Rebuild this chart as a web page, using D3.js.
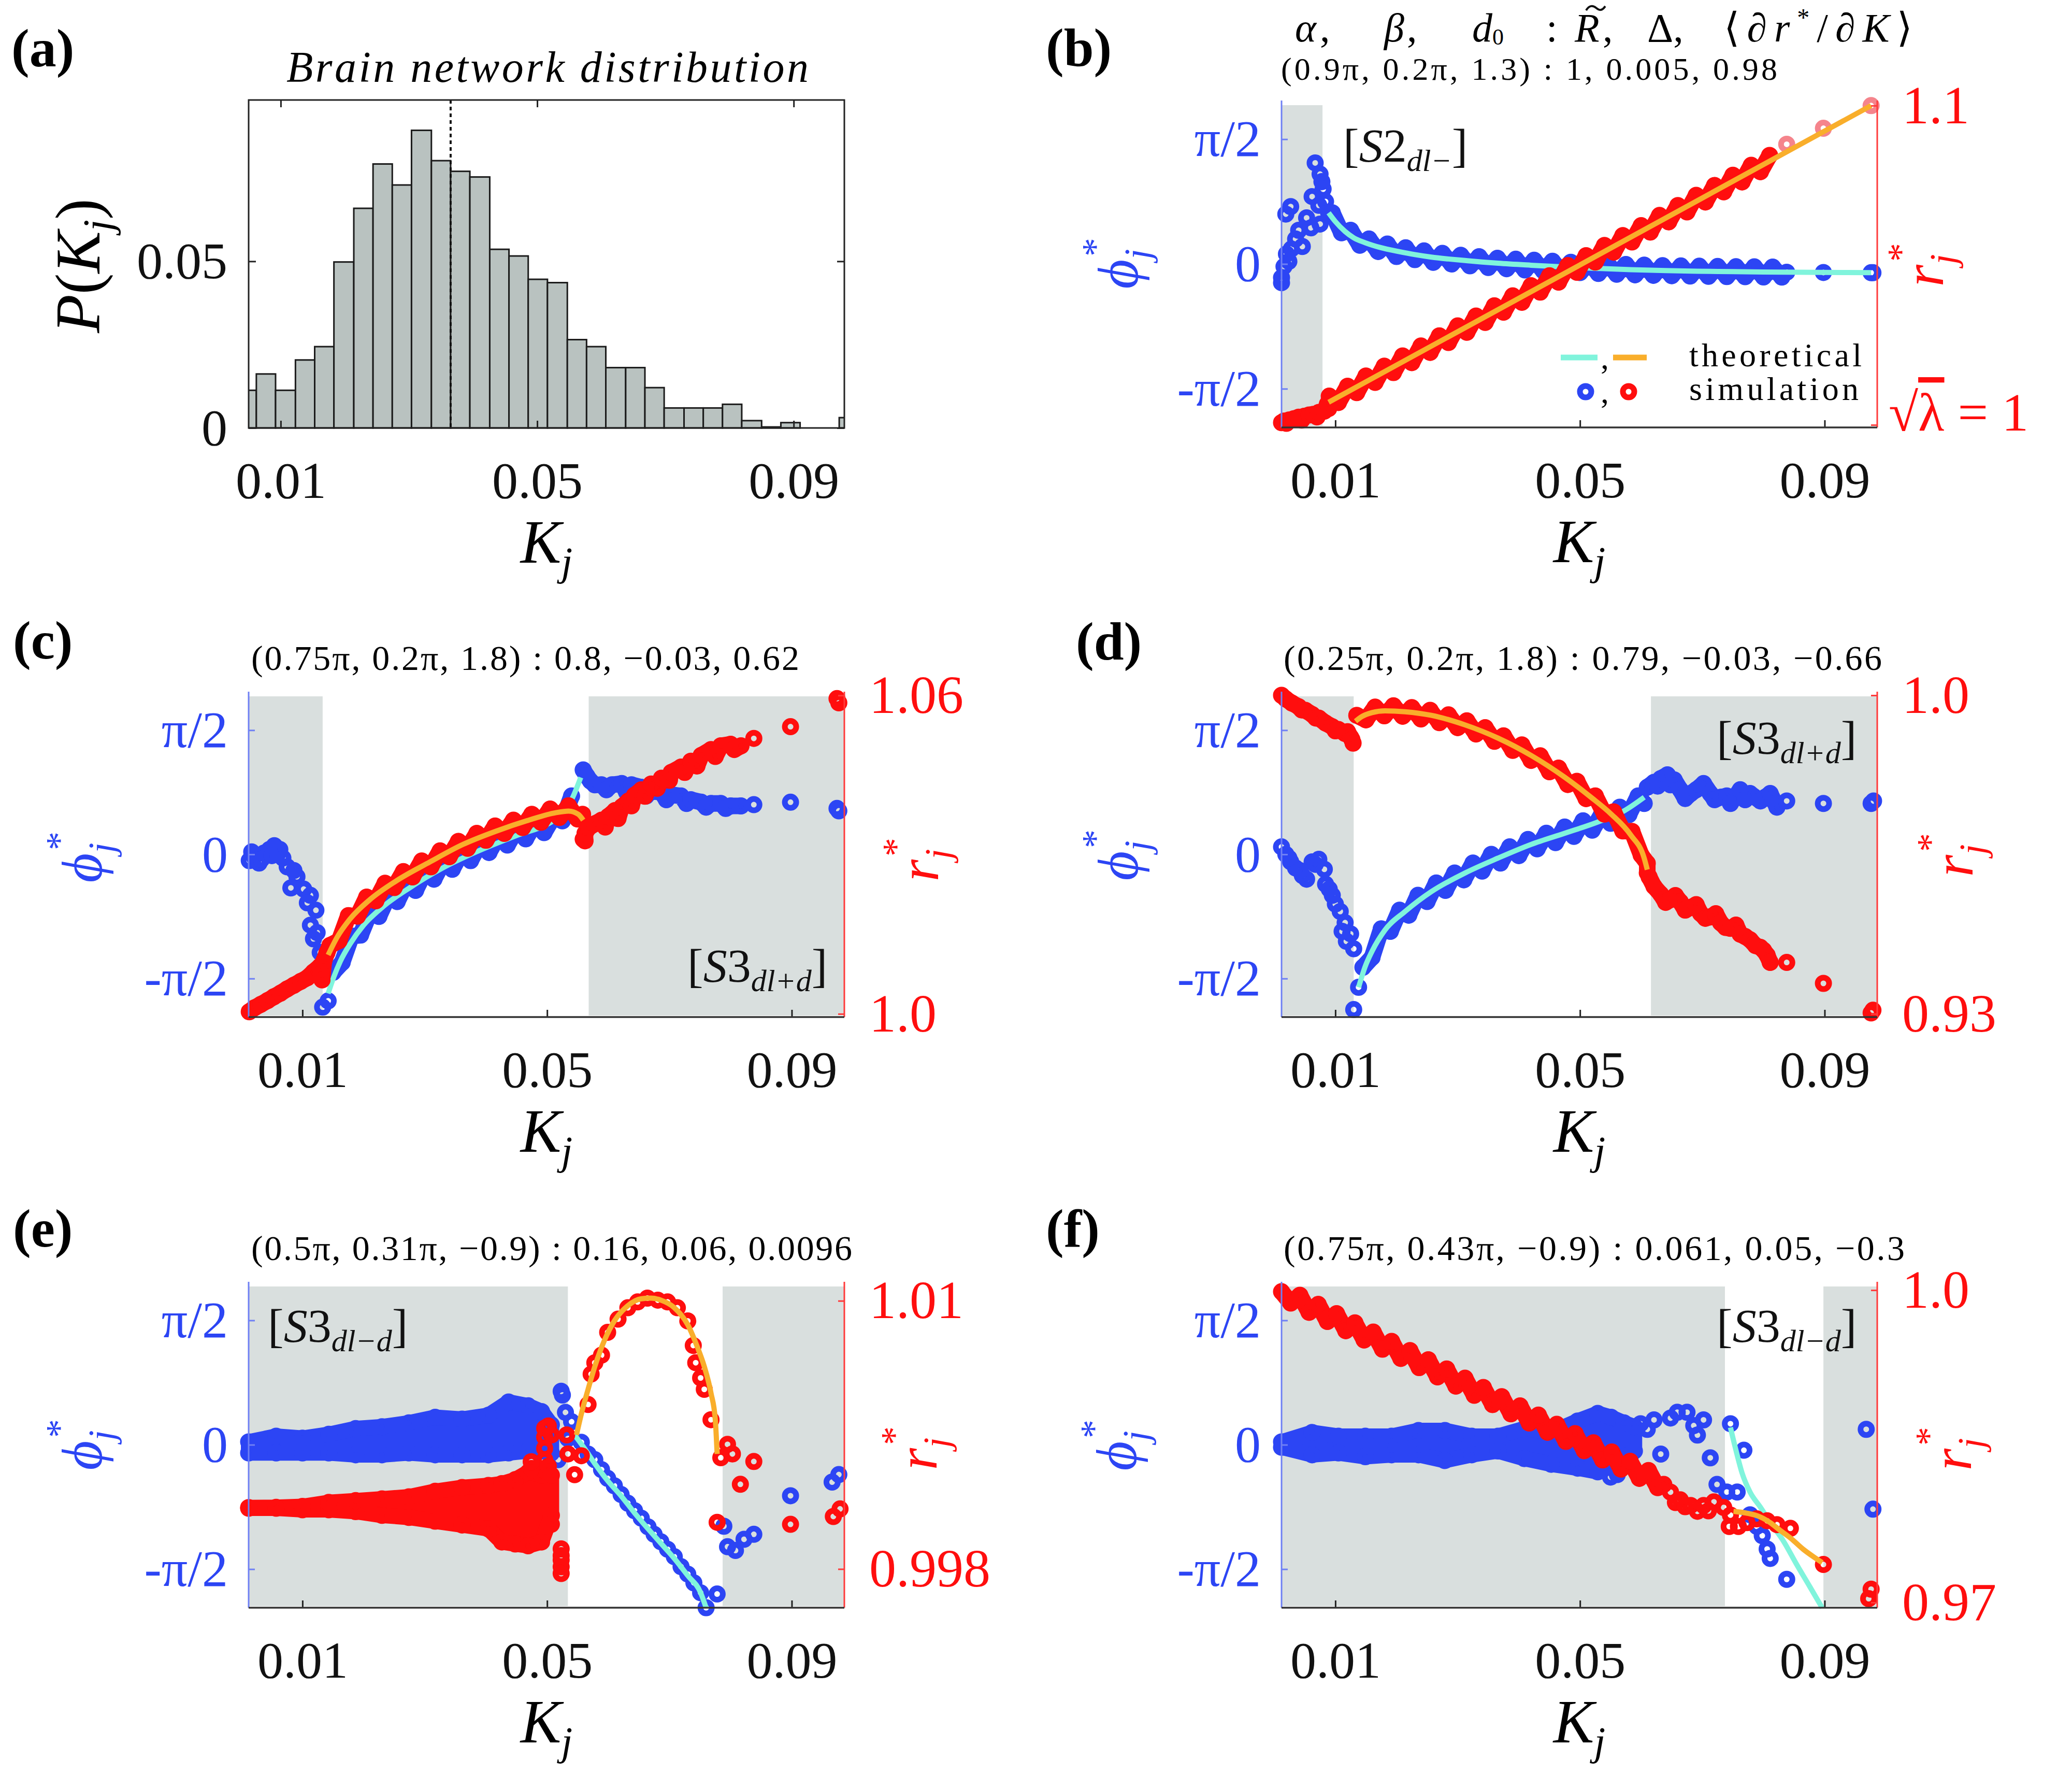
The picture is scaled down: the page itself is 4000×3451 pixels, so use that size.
<!DOCTYPE html>
<html><head><meta charset="utf-8">
<script src="https://cdn.jsdelivr.net/npm/d3@7"></script>
<style>body{margin:0;background:#fff}svg{display:block}</style>
</head><body>
<script>
// ================= DATA =================
// (a) histogram of coupling strengths
const histEdges=[0.0032,0.0062,0.0092,0.0123,0.0153,0.0183,0.0214,0.0244,0.0274,0.0304,0.0335,0.0365,0.0395,0.0426,0.0456,0.0486,0.0516,0.0547,0.0577,0.0607,0.0638,0.0668,0.0698,0.0729,0.0759,0.0789,0.0819,0.0850,0.0880,0.0910,0.0941,0.0971,0.1001];
const histProb=[0.0113,0.0162,0.0113,0.0204,0.0244,0.0498,0.0659,0.0792,0.0729,0.0893,0.0802,0.0770,0.0753,0.0536,0.0516,0.0446,0.0436,0.0265,0.0244,0.0181,0.0181,0.0121,0.0060,0.0060,0.0060,0.0071,0.0022,0.0003,0.0016,0,0,0.0031];
const histMeanK=0.0365;
const histKDomain=[0.005,0.0979];
const histPDomain=[0,0.0984];
const histXTicks=[0.01,0.05,0.09];
const histYTicks=[0,0.05];

// shared axes of (b)-(f); phi in units of pi/2
const kDomain=[0.0012,0.0986];
const kTicks=[0.01,0.05,0.09];
const phiDomain=[-1.31,1.31];
const phiTicks=[-1,0,1];
const phiTickLabels=['-π/2','0','π/2'];

// (b)
const bShade=[[0.0012,0.0079]];
const bPhiTheory=[[0.0089,0.41],[0.0100,0.34],[0.0116,0.26],[0.0130,0.21],[0.0149,0.17],[0.0175,0.13],[0.0203,0.10],[0.0230,0.075],[0.0257,0.055],[0.0285,0.04],[0.0312,0.028],[0.0340,0.016],[0.0366,0.006],[0.0420,-0.01],[0.0475,-0.024],[0.0530,-0.036],[0.0583,-0.046],[0.0640,-0.053],[0.0692,-0.058],[0.0750,-0.061],[0.0800,-0.064],[0.0976,-0.07]];
const bPhiScatter=[[0.0012,-0.15],[0.0012,-0.11],[0.0016,-0.02],[0.0024,0.02],[0.0020,0.08],[0.0028,0.12],[0.0019,0.40],[0.0027,0.46],[0.0035,0.20],[0.0046,0.14],[0.0040,0.27],[0.0053,0.37],[0.0060,0.29],[0.0062,0.54],[0.0067,0.81],[0.0075,0.72],[0.0078,0.66],[0.0080,0.60],[0.0084,0.50],[0.0073,0.47],[0.0075,0.32],[0.0089,0.41],[0.0838,-0.066],[0.0898,-0.068],[0.0976,-0.07],[0.0979,-0.07]];
const bPhiBand=[[0.0095,0.41],[0.0110,0.25],[0.0125,0.27],[0.0140,0.15],[0.0155,0.20],[0.0170,0.10],[0.0185,0.16],[0.0200,0.06],[0.0215,0.13],[0.0230,0.035],[0.0245,0.105],[0.0260,0.013],[0.0275,0.085],[0.0290,0.0],[0.0305,0.07],[0.0320,-0.015],[0.0335,0.058],[0.0350,-0.028],[0.0365,0.046],[0.0380,-0.038],[0.0395,0.038],[0.0410,-0.048],[0.0425,0.03],[0.0440,-0.055],[0.0455,0.022],[0.0470,-0.063],[0.0485,0.014],[0.0500,-0.069],[0.0515,0.008],[0.0530,-0.076],[0.0545,0.002],[0.0560,-0.082],[0.0575,-0.004],[0.0590,-0.087],[0.0605,-0.009],[0.0620,-0.091],[0.0635,-0.013],[0.0650,-0.094],[0.0665,-0.016],[0.0680,-0.097],[0.0695,-0.018],[0.0710,-0.099],[0.0725,-0.02],[0.0740,-0.101],[0.0755,-0.022],[0.0770,-0.102],[0.0785,-0.023],[0.0800,-0.104],[0.0815,-0.025],[0.0830,-0.105]];
const bRTheory=[[0.0089,1.0071],[0.0500,1.0501],[0.0976,1.1000]];
const bRBand=[[0.0012,1.0007],[0.0016,1.0012],[0.0020,1.0005],[0.0024,1.0015],[0.0032,1.0019],[0.0040,1.0024],[0.0045,1.0015],[0.0049,1.0027],[0.0057,1.0031],[0.0064,1.0033],[0.0070,1.0025],[0.0073,1.0039],[0.0082,1.0043],[0.0087,1.0065],[0.0089,1.0051],
[0.0090,1.0090],[0.0105,1.0070],[0.0120,1.0121],[0.0135,1.0101],[0.0150,1.0153],[0.0165,1.0133],[0.0180,1.0184],[0.0195,1.0164],[0.0210,1.0216],[0.0225,1.0195],[0.0240,1.0247],[0.0255,1.0227],[0.0270,1.0279],[0.0285,1.0258],[0.0300,1.0310],[0.0315,1.0290],[0.0330,1.0341],[0.0345,1.0321],[0.0360,1.0373],[0.0375,1.0353],[0.0390,1.0404],[0.0405,1.0384],[0.0420,1.0436],[0.0435,1.0416],[0.0450,1.0467],[0.0465,1.0447],[0.0480,1.0499],[0.0495,1.0478],[0.0510,1.0530],[0.0525,1.0510],[0.0540,1.0562],[0.0555,1.0541],[0.0570,1.0593],[0.0585,1.0573],[0.0600,1.0624],[0.0615,1.0604],[0.0630,1.0656],[0.0645,1.0636],[0.0660,1.0687],[0.0675,1.0667],[0.0690,1.0719],[0.0705,1.0698],[0.0720,1.0750],[0.0735,1.0730],[0.0750,1.0782],[0.0765,1.0761],[0.0780,1.0813],[0.0795,1.0793],[0.0810,1.0844]];
const bRPink=[[0.0838,1.0879],[0.0898,1.0929],[0.0976,1.1000]];
const bRDomain=[0.9992,1.1016];
const bRTicks=[1.0,1.1];
const bRTickLabels=['√λ = 1','1.1'];

// (c)
const cShade=[[0.0012,0.0133],[0.0568,0.0986]];
const cPhiTheory=[[0.0142,-1.12],[0.0151,-0.99],[0.0162,-0.86],[0.0178,-0.72],[0.0200,-0.57],[0.0232,-0.42],[0.0275,-0.27],[0.0329,-0.11],[0.0384,0.02],[0.0449,0.15],[0.0503,0.25],[0.0524,0.32],[0.0541,0.45],[0.0555,0.62]];
const cPhiScatter=[[0.0013,-0.05],[0.0021,-0.02],[0.0029,-0.07],[0.0037,0.01],[0.0046,0.04],[0.0054,0.07],[0.0059,0.0],[0.0068,-0.03],[0.0075,-0.10],[0.0086,-0.13],[0.0091,-0.18],[0.0081,-0.27],[0.0102,-0.28],[0.0113,-0.33],[0.0108,-0.39],[0.0122,-0.45],[0.0113,-0.57],[0.0124,-0.63],[0.0118,-0.68],[0.0129,-0.79],[0.0135,-0.85],[0.0124,-0.97],[0.0135,-1.0],[0.0133,-1.23],[0.0142,-1.18],[0.0017,0.02],[0.0033,-0.04],[0.0050,-0.01],[0.0063,0.04],[0.0838,0.40],[0.0898,0.42],[0.0974,0.37],[0.0977,0.35]];
const cPhiBandMain=[[0.0150,-0.95],[0.0165,-0.87],[0.0180,-0.66],[0.0195,-0.65],[0.0210,-0.47],[0.0225,-0.50],[0.0240,-0.34],[0.0255,-0.38],[0.0270,-0.23],[0.0285,-0.29],[0.0300,-0.14],[0.0315,-0.20],[0.0330,-0.06],[0.0345,-0.12],[0.0360,0.015],[0.0375,-0.05],[0.0390,0.085],[0.0405,0.015],[0.0420,0.145],[0.0435,0.075],[0.0450,0.20],[0.0465,0.125],[0.0480,0.25],[0.0495,0.175],[0.0510,0.30],[0.0525,0.27],[0.0540,0.47]];
const cPhiBandRight=[[0.0559,0.68],[0.0565,0.63],[0.0571,0.59],[0.0578,0.56],[0.0589,0.56],[0.0597,0.52],[0.0606,0.56],[0.0622,0.57],[0.0630,0.50],[0.0638,0.56],[0.0654,0.54],[0.0662,0.47],[0.0670,0.51],[0.0687,0.50],[0.0695,0.44],[0.0703,0.48],[0.0719,0.47],[0.0728,0.41],[0.0735,0.44],[0.0752,0.42],[0.0760,0.38],[0.0768,0.41],[0.0784,0.41],[0.0792,0.37],[0.0800,0.39],[0.0817,0.39]];
const cRTheory=[[0.0142,1.0111],[0.0156,1.0143],[0.0178,1.0179],[0.0210,1.0215],[0.0254,1.0251],[0.0308,1.0286],[0.0362,1.0319],[0.0416,1.0344],[0.0470,1.0365],[0.0514,1.0379],[0.0535,1.0382],[0.0551,1.0376],[0.0559,1.0365]];
const cRBandMain=[[0.0013,1.0004],[0.0021,1.0011],[0.0032,1.0018],[0.0043,1.0025],[0.0053,1.0032],[0.0064,1.0039],[0.0075,1.0047],[0.0086,1.0054],[0.0097,1.0061],[0.0108,1.0068],[0.0118,1.0079],[0.0129,1.0090],[0.0130,1.0075],[0.0132,1.0064],[0.0135,1.0100],[0.0140,1.0115],
[0.0145,1.0129],[0.0160,1.0138],[0.0175,1.0185],[0.0190,1.0184],[0.0205,1.0220],[0.0220,1.0213],[0.0235,1.0246],[0.0250,1.0238],[0.0265,1.0268],[0.0280,1.0258],[0.0295,1.0288],[0.0310,1.0277],[0.0325,1.0307],[0.0340,1.0296],[0.0355,1.0325],[0.0370,1.0312],[0.0385,1.0340],[0.0400,1.0327],[0.0415,1.0354],[0.0430,1.0340],[0.0445,1.0365],[0.0460,1.0351],[0.0475,1.0376],[0.0490,1.0361],[0.0505,1.0386],[0.0520,1.0370],[0.0535,1.0392],[0.0550,1.0367],[0.0558,1.0376]];
const cRBandRight=[[0.0559,1.0329],[0.0562,1.0326],[0.0562,1.0340],[0.0568,1.0351],[0.0578,1.0358],[0.0589,1.0365],[0.0595,1.0352],[0.0600,1.0372],[0.0611,1.0383],[0.0616,1.0368],[0.0622,1.0390],[0.0633,1.0401],[0.0638,1.0392],[0.0643,1.0412],[0.0654,1.0422],[0.0660,1.0410],[0.0670,1.0433],[0.0680,1.0425],[0.0687,1.0444],[0.0700,1.0440],[0.0703,1.0455],[0.0719,1.0465],[0.0725,1.0455],[0.0735,1.0476],[0.0745,1.0467],[0.0752,1.0487],[0.0768,1.0498],[0.0775,1.0485],[0.0784,1.0505],[0.0800,1.0508],[0.0806,1.0498],[0.0817,1.0505]];
const cRScatter=[[0.0838,1.0519],[0.0898,1.0541],[0.0974,1.0594],[0.0977,1.0586]];
const cRDomain=[0.9994,1.0607];
const cRTicks=[1.0,1.06];
const cRTickLabels=['1.0','1.06'];

// (d)
const dShade=[[0.0012,0.0130],[0.0616,0.0986]];
const dPhiTheory=[[0.0138,-1.07],[0.0149,-0.90],[0.0160,-0.78],[0.0181,-0.61],[0.0214,-0.46],[0.0257,-0.30],[0.0312,-0.15],[0.0366,-0.03],[0.0420,0.08],[0.0475,0.17],[0.0529,0.26],[0.0572,0.35],[0.0605,0.46]];
const dPhiScatter=[[0.0012,0.06],[0.0019,0.0],[0.0027,-0.06],[0.0035,-0.11],[0.0046,-0.17],[0.0053,-0.20],[0.0062,-0.06],[0.0073,-0.04],[0.0082,-0.12],[0.0084,-0.24],[0.0095,-0.33],[0.0100,-0.40],[0.0108,-0.46],[0.0116,-0.55],[0.0111,-0.62],[0.0125,-0.64],[0.0118,-0.70],[0.0130,-0.76],[0.0130,-1.25],[0.0138,-1.07],[0.0024,-0.03],[0.0042,-0.13],[0.0067,-0.08],[0.0090,-0.28],[0.0838,0.43],[0.0898,0.41],[0.0976,0.41],[0.0980,0.43]];
const dPhiBandMain=[[0.0145,-0.91],[0.0160,-0.83],[0.0175,-0.60],[0.0190,-0.62],[0.0205,-0.45],[0.0220,-0.49],[0.0235,-0.33],[0.0250,-0.38],[0.0265,-0.23],[0.0280,-0.29],[0.0295,-0.15],[0.0310,-0.205],[0.0325,-0.07],[0.0340,-0.135],[0.0355,0.0],[0.0370,-0.07],[0.0385,0.06],[0.0400,-0.01],[0.0415,0.12],[0.0430,0.045],[0.0445,0.17],[0.0460,0.095],[0.0475,0.22],[0.0490,0.145],[0.0505,0.27],[0.0520,0.195],[0.0535,0.32],[0.0550,0.25],[0.0565,0.38],[0.0580,0.32],[0.0595,0.47],[0.0605,0.41]];
const dPhiBandRight=[[0.0610,0.54],[0.0621,0.58],[0.0627,0.55],[0.0632,0.61],[0.0643,0.64],[0.0648,0.56],[0.0654,0.60],[0.0664,0.52],[0.0672,0.45],[0.0681,0.49],[0.0690,0.52],[0.0702,0.57],[0.0713,0.49],[0.0720,0.44],[0.0730,0.46],[0.0740,0.47],[0.0746,0.41],[0.0762,0.52],[0.0770,0.44],[0.0778,0.49],[0.0795,0.43],[0.0803,0.46],[0.0811,0.49],[0.0822,0.38]];
const dRTheory=[[0.0133,0.9943],[0.0143,0.9953],[0.0160,0.9962],[0.0181,0.9966],[0.0214,0.9964],[0.0257,0.9956],[0.0312,0.9935],[0.0366,0.9906],[0.0420,0.9868],[0.0475,0.9820],[0.0518,0.9776],[0.0551,0.9739],[0.0583,0.9693],[0.0605,0.9642],[0.0610,0.9617]];
const dRBandLeft=[[0.0012,1.0],[0.0019,0.9992],[0.0029,0.9983],[0.0040,0.9975],[0.0045,0.9968],[0.0051,0.9967],[0.0062,0.9958],[0.0068,0.9950],[0.0073,0.9950],[0.0084,0.9939],[0.0095,0.9931],[0.0100,0.9922],[0.0105,0.9925],[0.0116,0.9916],[0.0120,0.9920],[0.0125,0.9908],[0.0127,0.9903],[0.0129,0.9895]];
const dRBandMain=[[0.0135,0.9956],[0.0150,0.9946],[0.0165,0.9974],[0.0180,0.9955],[0.0195,0.9977],[0.0210,0.9954],[0.0225,0.9973],[0.0240,0.9948],[0.0255,0.9967],[0.0270,0.9940],[0.0285,0.9957],[0.0300,0.9929],[0.0315,0.9944],[0.0330,0.9915],[0.0345,0.9929],[0.0360,0.9899],[0.0375,0.9911],[0.0390,0.9879],[0.0405,0.9891],[0.0420,0.9857],[0.0435,0.9867],[0.0450,0.9832],[0.0465,0.9840],[0.0480,0.9804],[0.0495,0.9811],[0.0510,0.9773],[0.0525,0.9779],[0.0540,0.9739],[0.0555,0.9744],[0.0570,0.9702],[0.0585,0.9701],[0.0600,0.9649],[0.0610,0.9631],[0.0610,0.9610]];
const dRBandRight=[[0.0613,0.9601],[0.0621,0.9580],[0.0632,0.9563],[0.0640,0.9545],[0.0648,0.9551],[0.0656,0.9560],[0.0664,0.9546],[0.0672,0.9528],[0.0681,0.9534],[0.0690,0.9540],[0.0697,0.9521],[0.0705,0.9510],[0.0713,0.9513],[0.0722,0.9520],[0.0730,0.9500],[0.0738,0.9490],[0.0746,0.9488],[0.0755,0.9495],[0.0762,0.9475],[0.0770,0.9470],[0.0778,0.9463],[0.0787,0.9450],[0.0795,0.9446],[0.0800,0.9440],[0.0806,0.9429],[0.0811,0.9413]];
const dRScatter=[[0.0838,0.9413],[0.0898,0.9367],[0.0976,0.9302],[0.0979,0.9308]];
const dRDomain=[0.9293,1.0008];
const dRTicks=[0.93,1.0];
const dRTickLabels=['0.93','1.0'];

// (e)  clouds: [K, low, high]
const eShade=[[0.0012,0.0534],[0.0787,0.0986]];
const ePhiCloud=[[0.0012,-0.066,0.023],[0.0057,-0.066,0.069],[0.0100,-0.066,0.053],[0.0143,-0.066,0.084],[0.0187,-0.081,0.13],[0.0230,-0.081,0.145],[0.0274,-0.066,0.176],[0.0317,-0.081,0.221],[0.0361,-0.081,0.206],[0.0404,-0.081,0.237],[0.0437,-0.066,0.344],[0.0469,-0.05,0.313],[0.0491,-0.05,0.267],[0.0507,-0.066,0.16]];
const ePhiScatter=[[0.0523,0.43],[0.0525,0.40],[0.0530,0.26],[0.0534,0.05],[0.0518,-0.12],[0.0540,0.185],[0.0556,0.02],[0.0567,-0.075],[0.0578,-0.12],[0.0589,-0.20],[0.0599,-0.27],[0.0610,-0.33],[0.0621,-0.40],[0.0632,-0.47],[0.0643,-0.53],[0.0654,-0.59],[0.0665,-0.66],[0.0675,-0.72],[0.0686,-0.78],[0.0697,-0.84],[0.0708,-0.90],[0.0719,-0.98],[0.0730,-1.04],[0.0740,-1.11],[0.0751,-1.19],[0.0760,-1.31],[0.0778,-1.2],[0.0789,-0.655],[0.0795,-0.82],[0.0808,-0.85],[0.0822,-0.76],[0.0838,-0.72],[0.0898,-0.41],[0.0966,-0.30],[0.0977,-0.24]];
const ePhiTheory=[[0.0545,0.078],[0.0561,-0.029],[0.0578,-0.151],[0.0599,-0.289],[0.0621,-0.411],[0.0643,-0.548],[0.0664,-0.67],[0.0686,-0.792],[0.0708,-0.914],[0.0730,-1.052],[0.0751,-1.189],[0.0760,-1.311]];
const eRCloud=[[0.0012,1.00072,1.00075],[0.0057,1.00072,1.00076],[0.0100,1.00065,1.0008],[0.0143,1.00065,1.00098],[0.0187,1.00057,1.00106],[0.0230,1.0004,1.00114],[0.0274,1.00031,1.00123],[0.0317,1.00014,1.00148],[0.0361,0.99997,1.00165],[0.0404,0.9998,1.00174],[0.0426,0.99921,1.00182],[0.0448,0.99912,1.0020],[0.0469,0.99904,1.00233],[0.0491,0.99921,1.0022],[0.0507,1.0004,1.0022]];
const eRScatter=[[0.0496,1.0024],[0.0496,1.0029],[0.0496,1.0034],[0.0496,1.0039],[0.0496,1.0043],[0.0474,1.0025],[0.0474,1.0028],[0.0502,1.0044],[0.0507,1.0040],[0.0502,1.0026],[0.0507,1.0000],[0.0523,0.9989],[0.0523,0.9986],[0.0523,0.9984],[0.0523,0.9981],[0.0523,0.9978],[0.0534,1.00315],[0.0545,1.00222],[0.0556,1.00307],[0.0532,1.0040],[0.0567,1.00536],[0.0572,1.00672],[0.0578,1.00723],[0.0589,1.00757],[0.0599,1.00859],[0.0616,1.00918],[0.0632,1.00969],[0.0648,1.00995],[0.0664,1.01012],[0.0681,1.01003],[0.0697,1.00995],[0.0713,1.00969],[0.0730,1.0091],[0.0739,1.0080],[0.0743,1.00723],[0.0751,1.00655],[0.0757,1.00604],[0.0768,1.00468],[0.0784,1.00298],[0.0795,1.00358],[0.0803,1.00315],[0.0816,1.00179],[0.0838,1.00281],[0.0778,1.00009],[0.0898,1.0000],[0.0968,1.00035],[0.0979,1.00069]];
const eRTheory=[[0.0548,1.0040],[0.0556,1.00494],[0.0567,1.00604],[0.0578,1.00706],[0.0594,1.00825],[0.0610,1.0091],[0.0632,1.00978],[0.0654,1.01009],[0.0670,1.01012],[0.0686,1.01003],[0.0708,1.00969],[0.0730,1.00893],[0.0746,1.00791],[0.0757,1.00706],[0.0768,1.00587],[0.0775,1.00468],[0.0778,1.00315]];
const eRDomain=[0.99627,1.01085];
const eRTicks=[0.998,1.01];
const eRTickLabels=['0.998','1.01'];

// (f)
const fShade=[[0.0012,0.0737],[0.0898,0.0986]];
const fPhiCloud=[[0.0012,-0.02,0.023],[0.0062,-0.081,0.099],[0.0105,-0.066,0.069],[0.0149,-0.096,0.069],[0.0192,-0.081,0.069],[0.0236,-0.081,0.115],[0.0279,-0.127,0.115],[0.0323,-0.081,0.069],[0.0366,-0.05,0.069],[0.0409,-0.111,0.13],[0.0453,-0.157,0.099],[0.0496,-0.188,0.191],[0.0529,-0.218,0.252],[0.0551,-0.173,0.221],[0.0572,-0.096,0.176],[0.0589,-0.05,0.145]];
const fPhiScatter=[[0.0599,0.169],[0.0610,0.124],[0.0621,0.20],[0.0632,-0.075],[0.0648,0.215],[0.0659,0.261],[0.0675,0.261],[0.0686,0.154],[0.0692,0.078],[0.0702,0.20],[0.0713,-0.105],[0.0724,-0.319],[0.0740,-0.38],[0.0746,0.169],[0.0757,-0.38],[0.0768,-0.044],[0.0778,-0.563],[0.0789,-0.655],[0.0798,-0.731],[0.0806,-0.838],[0.0811,-0.914],[0.0838,-1.082],[0.0968,0.124],[0.0979,-0.518],[0.0561,-0.24],[0.0550,-0.26]];
const fPhiTheory=[[0.0746,0.139],[0.0755,-0.044],[0.0765,-0.227],[0.0778,-0.38],[0.0795,-0.502],[0.0811,-0.624],[0.0833,-0.777],[0.0854,-0.96],[0.0876,-1.143],[0.0896,-1.311]];
const fRBand=[[0.0012,0.99985],[0.0027,0.99876],[0.0042,0.99951],[0.0057,0.99787],[0.0072,0.99863],[0.0087,0.99699],[0.0102,0.99774],[0.0117,0.99610],[0.0132,0.99686],[0.0147,0.99521],[0.0162,0.99597],[0.0177,0.99433],[0.0192,0.99508],[0.0207,0.99344],[0.0222,0.99420],[0.0237,0.99256],[0.0252,0.99331],[0.0267,0.99167],[0.0282,0.99243],[0.0297,0.99078],[0.0312,0.99154],[0.0327,0.98990],[0.0342,0.99065],[0.0357,0.98901],[0.0372,0.98977],[0.0387,0.98812],[0.0402,0.98888],[0.0417,0.98724],[0.0432,0.98800],[0.0447,0.98635],[0.0462,0.98711],[0.0477,0.98547],[0.0492,0.98622],[0.0507,0.98458],[0.0522,0.98534],[0.0537,0.98369],[0.0552,0.98445],[0.0567,0.98281],[0.0582,0.98356],[0.0597,0.98192],[0.0612,0.98268],[0.0627,0.98103],[0.0637,0.98134]];
const fRScatter=[[0.0648,0.9806],[0.0664,0.97986],[0.0681,0.97932],[0.0692,0.97876],[0.0702,0.97931],[0.0719,0.97967],[0.0735,0.97913],[0.0746,0.9784],[0.0744,0.9773],[0.0759,0.9773],[0.0773,0.97767],[0.0789,0.97803],[0.0806,0.97785],[0.0822,0.97748],[0.0844,0.97712],[0.0898,0.97365],[0.0976,0.97128],[0.0972,0.97037],[0.0656,0.9796],[0.0672,0.9792],[0.0710,0.9788]];
const fRTheory=[[0.0751,0.97876],[0.0773,0.97858],[0.0795,0.97821],[0.0811,0.97767],[0.0827,0.97694],[0.0844,0.9762],[0.0865,0.97511],[0.0882,0.97438],[0.0896,0.97383]];
const fRDomain=[0.9695,1.0008];
const fRTicks=[0.97,1.0];
const fRTickLabels=['0.97','1.0'];

// header texts
const headerTexts={b:'(0.9π, 0.2π, 1.3) : 1, 0.005, 0.98', c:'(0.75π, 0.2π, 1.8) : 0.8, −0.03, 0.62', d:'(0.25π, 0.2π, 1.8) : 0.79, −0.03, −0.66', e:'(0.5π, 0.31π, −0.9) : 0.16, 0.06, 0.0096', f:'(0.75π, 0.43π, −0.9) : 0.061, 0.05, −0.3'};
const stateLabels={b:['2','dl−'], c:['3','dl+d'], d:['3','dl+d'], e:['3','dl−d'], f:['3','dl−d']};

// ================= DRAWING =================
const W=4000,H=3451;
const SERIF="'Liberation Serif','DejaVu Serif',serif";
const BLUE='#2c45f4', RED='#ff0e0e', PINK='#f5848c', CYAN='#80f4dc', ORANGE='#f9ae2b', SHADE='#d9dfde';
const AXBLUE='#6f80f4', AXRED='#ff3b3b';
const svg=d3.select('body').append('svg').attr('width',W).attr('height',H).attr('font-family',SERIF);
svg.append('rect').attr('width',W).attr('height',H).attr('fill','#fff');

function tag(x,y,s){svg.append('text').attr('x',x).attr('y',y).attr('font-size',104).attr('font-weight','bold').text(s);}
function kLabel(cx,by){
  const t=svg.append('text').attr('x',cx).attr('y',by).attr('text-anchor','middle').attr('font-size',118).attr('font-style','italic');
  t.append('tspan').text('K');
  t.append('tspan').attr('font-size',78).attr('dy',24).text('j');
}

// ---------- (a) ----------
(function(){
  const A={left:480,right:1630,top:193,bottom:826};
  const x=d3.scaleLinear().domain(histKDomain).range([A.left,A.right]);
  const y=d3.scaleLinear().domain(histPDomain).range([A.bottom,A.top]);
  svg.append('clipPath').attr('id','clipA').append('rect').attr('x',A.left).attr('y',A.top-5).attr('width',A.right-A.left).attr('height',A.bottom-A.top+10);
  const g=svg.append('g');
  g.append('g').attr('clip-path','url(#clipA)').selectAll('rect').data(histProb).join('rect')
    .attr('x',(d,i)=>x(histEdges[i])).attr('width',(d,i)=>x(histEdges[i+1])-x(histEdges[i]))
    .attr('y',d=>y(d)).attr('height',d=>y(0)-y(d))
    .attr('fill','#b9c2c0').attr('stroke','#1b1b1b').attr('stroke-width',3);
  g.append('line').attr('x1',x(histMeanK)).attr('x2',x(histMeanK)).attr('y1',A.top).attr('y2',A.bottom)
    .attr('stroke','#111').attr('stroke-width',4).attr('stroke-dasharray','7,6');
  g.append('rect').attr('x',A.left).attr('y',A.top).attr('width',A.right-A.left).attr('height',A.bottom-A.top)
    .attr('fill','none').attr('stroke','#222').attr('stroke-width',3);
  const fmt=d=>d===0?'0':d3.format('.2f')(d);
  const st=(s)=>{s.select('.domain').remove();s.attr('font-family',SERIF).attr('font-size',100);s.selectAll('.tick line').attr('stroke','#222').attr('stroke-width',3);s.selectAll('.tick text').attr('fill','#111');};
  g.append('g').attr('transform',`translate(0,${A.bottom})`).call(d3.axisBottom(x).tickValues(histXTicks).tickSize(-14).tickPadding(64).tickFormat(fmt)).call(st);
  g.append('g').attr('transform',`translate(0,${A.top})`).call(d3.axisTop(x).tickValues(histXTicks).tickSize(-14).tickFormat('')).call(st);
  g.append('g').attr('transform',`translate(${A.left},0)`).call(d3.axisLeft(y).tickValues(histYTicks).tickSize(-14).tickPadding(41).tickFormat(fmt)).call(st);
  g.append('g').attr('transform',`translate(${A.right},0)`).call(d3.axisRight(y).tickValues(histYTicks).tickSize(-14).tickFormat('')).call(st);
  svg.append('text').attr('x',1057).attr('y',158).attr('text-anchor','middle').attr('font-size',84).attr('font-style','italic')
    .attr('textLength',1008).attr('lengthAdjust','spacing').text('Brain network distribution');
  const t=svg.append('text').attr('transform','translate(192,513) rotate(-90)').attr('text-anchor','middle').attr('font-size',122);
  t.append('tspan').attr('font-style','italic').text('P');
  t.append('tspan').text('(');
  t.append('tspan').attr('font-style','italic').text('K');
  t.append('tspan').attr('font-style','italic').attr('font-size',80).attr('dy',24).text('j');
  t.append('tspan').attr('dy',-24).text(')');
  kLabel(1055,1086);
  tag(22,128,'(a)');
})();

// ---------- (b)-(f) ----------
const panels=[
 {id:'b',left:2474,right:3624,top:194,bottom:825,shade:bShade,phiBands:[bPhiBand],phiScatter:bPhiScatter,phiTheory:bPhiTheory,rBands:[bRBand],rScatter:[],rPink:bRPink,rTheory:bRTheory,rDomain:bRDomain,rTicks:bRTicks,rLabels:bRTickLabels,
  tag:[2019,127],head:[2473,154,958],phiLab:[2169,510],rLab:[3735,513],state:[2593,312]},
 {id:'c',left:480,right:1630,top:1335,bottom:1963,shade:cShade,phiBands:[cPhiBandMain,cPhiBandRight],phiScatter:cPhiScatter,phiTheory:cPhiTheory,rBands:[cRBandMain,cRBandRight],rScatter:cRScatter,rTheory:cRTheory,rDomain:cRDomain,rTicks:cRTicks,rLabels:cRTickLabels,
  tag:[25,1271],head:[485,1293,1058],phiLab:[169,1656],rLab:[1795,1661],state:[1327,1895]},
 {id:'d',left:2474,right:3624,top:1335,bottom:1963,shade:dShade,phiBands:[dPhiBandMain,dPhiBandRight],phiScatter:dPhiScatter,phiTheory:dPhiTheory,rBands:[dRBandLeft,dRBandMain,dRBandRight],rScatter:dRScatter,rTheory:dRTheory,rDomain:dRDomain,rTicks:dRTicks,rLabels:dRTickLabels,
  tag:[2077,1273],head:[2478,1293,1155],phiLab:[2169,1652],rLab:[3792,1652],state:[3314,1455]},
 {id:'e',left:480,right:1630,top:2474,bottom:3103,shade:eShade,phiCloud:ePhiCloud,phiBands:[],phiScatter:ePhiScatter,phiTheory:ePhiTheory,rCloud:eRCloud,rBands:[],rScatter:eRScatter,rTheory:eRTheory,rDomain:eRDomain,rTicks:eRTicks,rLabels:eRTickLabels,
  tag:[25,2406],head:[485,2432,1160],phiLab:[169,2790],rLab:[1792,2797],state:[517,2590]},
 {id:'f',left:2474,right:3624,top:2474,bottom:3103,shade:fShade,phiCloud:fPhiCloud,phiBands:[],phiScatter:fPhiScatter,phiTheory:fPhiTheory,rBands:[fRBand],rScatter:fRScatter,rTheory:fRTheory,rDomain:fRDomain,rTicks:fRTicks,rLabels:fRTickLabels,
  tag:[2019,2406],head:[2478,2432,1199],phiLab:[2166,2791],rLab:[3789,2798],state:[3314,2590]}
];

const CR=11, CSW=11;
function circles(g,data,x,y,color){
  g.append('g').selectAll('circle').data(data).join('circle')
    .attr('cx',d=>x(d[0])).attr('cy',d=>y(d[1])).attr('r',CR)
    .attr('fill','none').attr('stroke',color).attr('stroke-width',CSW);
}
function band(g,data,x,y,color){
  g.append('path').datum(data).attr('d',d3.line().x(d=>x(d[0])).y(d=>y(d[1])))
    .attr('fill','none').attr('stroke',color).attr('stroke-width',32).attr('stroke-linejoin','round').attr('stroke-linecap','round');
  circles(g,data,x,y,color);
}
function cloud(g,data,x,y,color){
  g.append('path').datum(data).attr('d',d3.area().x(d=>x(d[0])).y0(d=>y(d[1])).y1(d=>y(d[2])))
    .attr('fill',color).attr('stroke',color).attr('stroke-width',30).attr('stroke-linejoin','round');
  circles(g,data.flatMap(d=>[[d[0],d[1]],[d[0],d[2]]]),x,y,color);
}
function line(g,data,x,y,color){
  g.append('path').datum(data).attr('d',d3.line().x(d=>x(d[0])).y(d=>y(d[1])).curve(d3.curveMonotoneX))
    .attr('fill','none').attr('stroke',color).attr('stroke-width',10).attr('stroke-linecap','butt');
}

panels.forEach(P=>{
  const x=d3.scaleLinear().domain(kDomain).range([P.left,P.right]);
  const yP=d3.scaleLinear().domain(phiDomain).range([P.bottom,P.top]);
  const yR=d3.scaleLinear().domain(P.rDomain).range([P.bottom,P.top]);
  const g=svg.append('g');
  g.append('g').selectAll('rect').data(P.shade).join('rect')
    .attr('x',d=>x(d[0])).attr('width',d=>x(d[1])-x(d[0]))
    .attr('y',P.top+9).attr('height',P.bottom-P.top-12).attr('fill',SHADE);
  // left axis series (phi)
  if(P.phiCloud) cloud(g,P.phiCloud,x,yP,BLUE);
  P.phiBands.forEach(b=>band(g,b,x,yP,BLUE));
  circles(g,P.phiScatter,x,yP,BLUE);
  line(g,P.phiTheory,x,yP,CYAN);
  // right axis series (r)
  if(P.rCloud) cloud(g,P.rCloud,x,yR,RED);
  P.rBands.forEach(b=>band(g,b,x,yR,RED));
  circles(g,P.rScatter,x,yR,RED);
  if(P.rPink) circles(g,P.rPink,x,yR,PINK);
  line(g,P.rTheory,x,yR,ORANGE);
  // axes
  const gx=g.append('g').attr('transform',`translate(0,${P.bottom})`)
    .call(d3.axisBottom(x).tickValues(kTicks).tickSize(-14).tickPadding(64).tickFormat(d3.format('.2f')));
  gx.select('.domain').remove();
  gx.attr('font-family',SERIF).attr('font-size',100);
  gx.selectAll('.tick line').attr('stroke','#222').attr('stroke-width',3);
  gx.selectAll('.tick text').attr('fill','#111');
  const gl=g.append('g').attr('transform',`translate(${P.left},0)`)
    .call(d3.axisLeft(yP).tickValues(phiTicks).tickSize(-12).tickPadding(40).tickFormat((d,i)=>phiTickLabels[i]));
  gl.select('.domain').remove();
  gl.attr('font-family',SERIF).attr('font-size',100);
  gl.selectAll('.tick line').attr('stroke',AXBLUE).attr('stroke-width',3);
  gl.selectAll('.tick text').attr('fill',BLUE);
  const gr=g.append('g').attr('transform',`translate(${P.right},0)`)
    .call(d3.axisRight(yR).tickValues(P.rTicks).tickSize(-12).tickPadding(48).tickFormat((d,i)=>P.rLabels[i]));
  gr.select('.domain').remove();
  gr.attr('font-family',SERIF).attr('font-size',104);
  gr.selectAll('.tick line').attr('stroke',AXRED).attr('stroke-width',3);
  gr.selectAll('.tick text').attr('fill',RED);
  gr.selectAll('.tick text').filter(function(){return this.textContent.startsWith('√');}).each(function(){
    const s=d3.select(this); s.text('').attr('x',22).attr('dy','0.1em');
    s.append('tspan').text('√');
    s.append('tspan').style('text-decoration','overline').text('λ');
    s.append('tspan').text(' = 1');
  });
  g.append('line').attr('x1',P.left).attr('x2',P.left).attr('y1',P.top).attr('y2',P.bottom).attr('stroke',AXBLUE).attr('stroke-width',3);
  g.append('line').attr('x1',P.right).attr('x2',P.right).attr('y1',P.top).attr('y2',P.bottom).attr('stroke',AXRED).attr('stroke-width',3);
  g.append('line').attr('x1',P.left).attr('x2',P.right).attr('y1',P.bottom).attr('y2',P.bottom).attr('stroke','#333').attr('stroke-width',3.5);
  // axis titles
  kLabel((P.left+P.right)/2,P.bottom+260);
  const tp=svg.append('text').attr('transform',`translate(${P.phiLab[0]+27},${P.phiLab[1]}) rotate(-90)`).attr('text-anchor','middle').attr('font-size',110).attr('fill',BLUE).attr('font-style','italic');
  tp.append('tspan').text('ϕ');
  tp.append('tspan').attr('font-size',72).attr('dy',24).text('j');
  tp.append('tspan').attr('font-size',72).attr('dx',-18).attr('dy',-82).text('*');
  const tr=svg.append('text').attr('transform',`translate(${P.rLab[0]+16},${P.rLab[1]}) rotate(-90)`).attr('text-anchor','middle').attr('font-size',110).attr('fill',RED).attr('font-style','italic');
  tr.append('tspan').text('r');
  tr.append('tspan').attr('font-size',72).attr('dy',24).text('j');
  tr.append('tspan').attr('font-size',72).attr('dx',-18).attr('dy',-82).text('*');
  // header and tag
  svg.append('text').attr('x',P.head[0]).attr('y',P.head[1]).attr('font-size',P.id==='b'?62:68)
    .attr('textLength',P.head[2]).attr('lengthAdjust','spacing').text(headerTexts[P.id]);
  tag(P.tag[0],P.tag[1],'('+P.id+')');
  const sl=stateLabels[P.id];
  const ts=svg.append('text').attr('x',P.state[0]).attr('y',P.state[1]).attr('font-size',92).attr('fill','#111');
  ts.append('tspan').text('[');
  ts.append('tspan').attr('font-style','italic').text('S');
  ts.append('tspan').text(sl[0]);
  ts.append('tspan').attr('font-style','italic').attr('font-size',60).attr('dy',18).text(sl[1]);
  ts.append('tspan').attr('dy',-18).text(']');
});

// (b) extra header line and legend
(function(){
  const y=80, fs=78;
  const t=(x,s,it)=>svg.append('text').attr('x',x).attr('y',y).attr('font-size',fs).attr('font-style',it?'italic':'normal').text(s);
  t(2500,'α',true); t(2548,',',false);
  t(2672,'β',true); t(2716,',',false);
  const d0=svg.append('text').attr('x',2842).attr('y',y).attr('font-size',fs);
  d0.append('tspan').attr('font-style','italic').text('d');
  d0.append('tspan').attr('font-size',44).attr('dy',6).text('0');
  t(2985,':',false);
  t(3040,'R',true); t(3094,',',false);
  svg.append('path').attr('d','M3062,20 C3068,10 3075,10 3081,15 S3092,22 3099,12').attr('fill','none').attr('stroke','#111').attr('stroke-width',4);
  t(3180,'Δ,',false);
  const q=svg.append('text').attr('x',3328).attr('y',y).attr('font-size',fs).attr('textLength',364).attr('lengthAdjust','spacing');
  q.append('tspan').text('⟨∂');
  q.append('tspan').attr('font-style','italic').text('r');
  q.append('tspan').attr('font-size',48).attr('dy',-30).text('*');
  q.append('tspan').attr('dy',30).text('/∂');
  q.append('tspan').attr('font-style','italic').text('K');
  q.append('tspan').text('⟩');
  // legend
  svg.append('line').attr('x1',3013).attr('x2',3084).attr('y1',690).attr('y2',690).attr('stroke',CYAN).attr('stroke-width',11);
  svg.append('line').attr('x1',3114).attr('x2',3179).attr('y1',690).attr('y2',690).attr('stroke',ORANGE).attr('stroke-width',11);
  svg.append('text').attr('x',3090).attr('y',712).attr('font-size',64).text(',');
  svg.append('circle').attr('cx',3061).attr('cy',756).attr('r',CR).attr('fill','none').attr('stroke',BLUE).attr('stroke-width',CSW);
  svg.append('circle').attr('cx',3144).attr('cy',756).attr('r',CR).attr('fill','none').attr('stroke',RED).attr('stroke-width',CSW);
  svg.append('text').attr('x',3090).attr('y',778).attr('font-size',64).text(',');
  svg.append('text').attr('x',3261).attr('y',707).attr('font-size',64).attr('textLength',333).attr('lengthAdjust','spacing').text('theoretical');
  svg.append('text').attr('x',3261).attr('y',772).attr('font-size',64).attr('textLength',327).attr('lengthAdjust','spacing').text('simulation');
})();
</script>
</body></html>
